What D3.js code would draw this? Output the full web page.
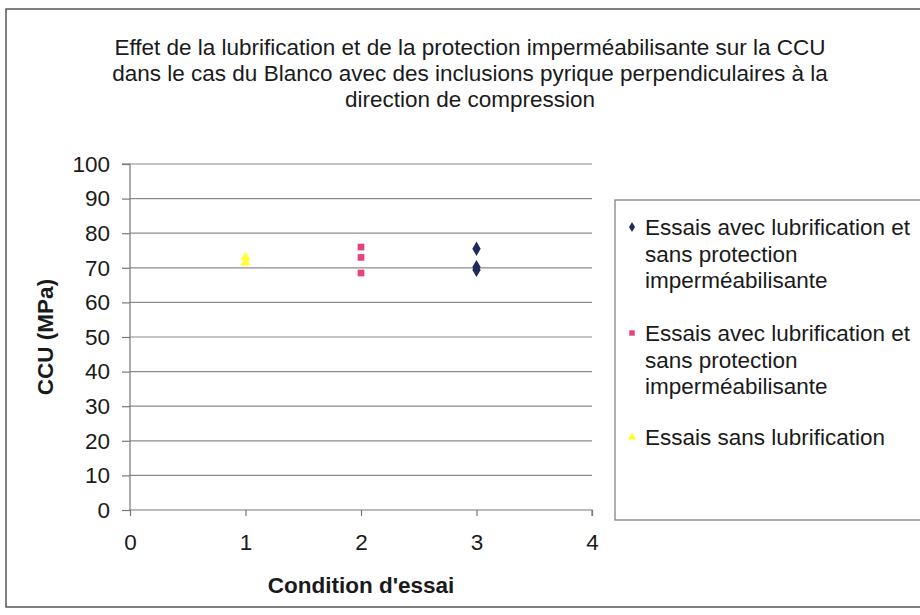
<!DOCTYPE html>
<html><head><meta charset="utf-8">
<script src="https://cdn.jsdelivr.net/npm/d3@7"></script>
<style>body{margin:0;background:#fff}svg{display:block}text{font-family:Arial,"Liberation Sans",sans-serif;fill:#1a1a1a}</style>
</head><body>
<script>
const titleLines = ["Effet de la lubrification et de la protection imperméabilisante sur la CCU","dans le cas du Blanco avec des inclusions pyrique perpendiculaires à la","direction de compression"];
const xTicks = [0,1,2,3,4];
const yTicks = [0,10,20,30,40,50,60,70,80,90,100];
const seriesNames = ["Essais avec lubrification et sans protection imperméabilisante","Essais avec lubrification et sans protection imperméabilisante","Essais sans lubrification"];
const seriesColors = ["#1f2a5c","#e8427c","#ffff33"];
const seriesSymbols = ["diamond","square","triangle"];
const seriesX = [[3,3,3],[2,2,2],[1,1]];
const seriesY = [[75.5,70.2,69.4],[76,73,68.5],[71.5,73]];
const legendLines = [["Essais avec lubrification et","sans protection","imperméabilisante"],["Essais avec lubrification et","sans protection","imperméabilisante"],["Essais sans lubrification"]];

const W=920,H=615, FS="22.5px";
const svg=d3.select("body").append("svg").attr("width",W).attr("height",H);
svg.append("rect").attr("x",6).attr("y",9).attr("width",W).attr("height",598).attr("fill","#fff").attr("stroke","#555").attr("stroke-width",1.5);

const x=d3.scaleLinear().domain([0,4]).range([130,592]);
const y=d3.scaleLinear().domain([0,100]).range([510,164]);

// title
svg.append("g").selectAll("text").data(titleLines).join("text")
 .attr("x",470).attr("y",(d,i)=>55+i*26).attr("text-anchor","middle").style("font-size",FS).text(d=>d);

// gridlines
svg.append("g").selectAll("line").data(yTicks.filter(v=>v>0)).join("line")
 .attr("x1",x(0)).attr("x2",x(4)).attr("y1",d=>y(d)).attr("y2",d=>y(d)).attr("stroke","#8a8a8a").attr("stroke-width",1.2);

const yAxis=svg.append("g").attr("transform",`translate(${x(0)},0)`).call(d3.axisLeft(y).tickValues(yTicks).tickSize(8).tickPadding(12).tickFormat(d3.format("d")));
const xAxis=svg.append("g").attr("transform",`translate(0,${y(0)})`).call(d3.axisBottom(x).tickValues(xTicks).tickSize(6).tickPadding(18).tickFormat(d3.format("d")));
[yAxis,xAxis].forEach(a=>{a.selectAll("path,line").attr("stroke","#777").attr("stroke-width",1.2);a.selectAll("text").style("font-size",FS).attr("fill","#1a1a1a").style("font-family","Arial,'Liberation Sans',sans-serif");});
yAxis.select(".domain").attr("d",`M-8,${y(100)}H0V${y(0)}`);
xAxis.select(".domain").attr("d",`M${x(0)},0H${x(4)}V6`);

svg.append("text").attr("transform",`translate(53,${y(50)}) rotate(-90)`).attr("text-anchor","middle").style("font-size",FS).style("font-weight","bold").text("CCU (MPa)");
svg.append("text").attr("x",x(2)).attr("y",593).attr("text-anchor","middle").style("font-size",FS).style("font-weight","bold").text("Condition d'essai");

// points
const symMap={diamond:d3.symbolDiamond,square:d3.symbolSquare,triangle:d3.symbolTriangle};
const sizes={diamond:60,square:45,triangle:45};
seriesY.forEach((ys,s)=>{
  svg.append("g").selectAll("path").data(ys.map((v,i)=>[seriesX[s][i],v])).join("path")
   .attr("transform",d=>`translate(${x(d[0])},${y(d[1])})`)
   .attr("d",d3.symbol().type(symMap[seriesSymbols[s]]).size(sizes[seriesSymbols[s]]))
   .attr("fill",seriesColors[s]);
});

// legend
svg.append("rect").attr("x",615).attr("y",200).attr("width",320).attr("height",320).attr("fill","#fff").attr("stroke","#777").attr("stroke-width",1.2);
const legStarts=[235,341,445];
legendLines.forEach((lines,s)=>{
  const y0=legStarts[s];
  svg.append("path").attr("transform",`translate(632,${y0-8})`).attr("d",d3.symbol().type(symMap[seriesSymbols[s]]).size(30)).attr("fill",seriesColors[s]);
  svg.append("g").selectAll("text").data(lines).join("text").attr("x",645).attr("y",(d,i)=>y0+i*26.5).style("font-size",FS).text(d=>d);
});
</script>
</body></html>
